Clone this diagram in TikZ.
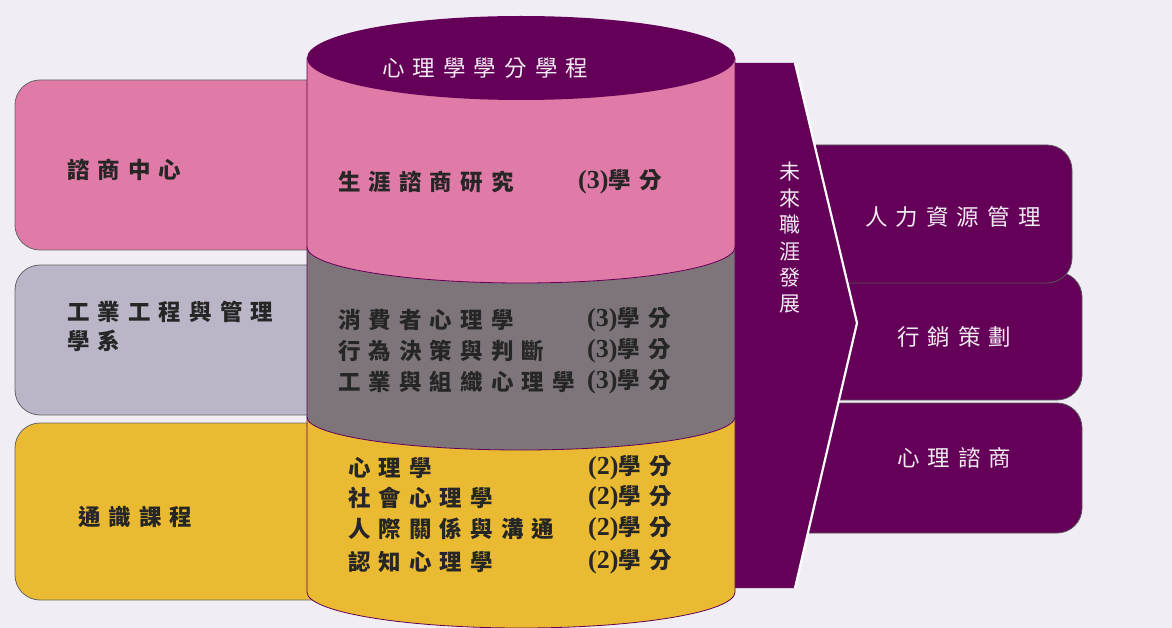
\documentclass[tikz,border=0pt]{standalone}
\usepackage{fontspec}
\newfontfamily\cjk[LetterSpace=36]{Noto Sans CJK TC}
\newfontfamily\latn{Liberation Serif}
\definecolor{purp}{RGB}{100,0,88}
\definecolor{pinkc}{RGB}{224,122,166}
\definecolor{grayband}{RGB}{126,117,122}
\definecolor{lgray}{RGB}{186,182,200}
\definecolor{yell}{RGB}{233,186,50}
\definecolor{bgc}{RGB}{240,238,244}
\newcommand\credit[1]{{\latn\fontsize{26}{26}\selectfont(#1)}學分}
\tikzset{
  txt/.style={anchor=west, inner sep=0pt, font=\cjk\bfseries\fontsize{22.5}{26}\selectfont, text=black!85},
  wtxt/.style={anchor=west, inner sep=0pt, font=\cjk\fontsize{22.5}{26}\selectfont, text=white!92!purp},
  leftbox/.style={draw=gray!80!black, line width=0.8pt, rounded corners=25pt},
  rightbox/.style={draw=gray!70!black, line width=0.8pt, fill=purp},
  cylpart/.style={draw=purp, line width=0.8pt},
}
\begin{document}
\begin{tikzpicture}[x=1pt,y=-1pt]
\useasboundingbox (0,0) rectangle (1172,628);
\fill[bgc] (0,0) rectangle (1172,628);

% right boxes
\draw[rightbox] (790,403) -- (1057,403) arc[start angle=270, end angle=360, x radius=25, y radius=25] -- (1082,508) arc[start angle=0, end angle=90, x radius=25, y radius=25] -- (790,533) -- cycle;
\draw[rightbox] (790,272) -- (1057,272) arc[start angle=270, end angle=360, x radius=25, y radius=25] -- (1082,375) arc[start angle=0, end angle=90, x radius=25, y radius=25] -- (790,400) -- cycle;
\draw[rightbox] (790,145) -- (1047,145) arc[start angle=270, end angle=360, x radius=25, y radius=25] -- (1072,258) arc[start angle=0, end angle=90, x radius=25, y radius=25] -- (790,283) -- cycle;

\node[wtxt] (hr) at (865,217) {人力資源管理};
\node[wtxt] (mk) at (897,337) {行銷策劃};
\node[wtxt] (pc) at (897,458) {心理諮商};

% arrow band
\fill[purp] (730,63) -- (795,63) -- (857,323) -- (795,588) -- (730,588) -- cycle;
\draw[white, line width=2.2pt, line join=miter] (795,63) -- (857,323) -- (795,588);
\node[text=white!92!purp, inner sep=0pt, align=center, font=\cjk\fontsize{21}{26.4}\selectfont] (fut) at (790,238) {未\\來\\職\\涯\\發\\展};

% left boxes
\draw[leftbox, fill=pinkc] (15,80) rectangle (420,250);
\draw[leftbox, fill=lgray] (15,265) rectangle (420,415);
\draw[leftbox, fill=yell] (15,423) rectangle (420,600);

\node[txt] (zs) at (67,170) {諮商中心};
\node[txt] (ie1) at (67,312) {工業工程與管理};
\node[txt] (ie2) at (67,341) {學系};
\node[txt] (ge) at (78,517) {通識課程};

% cylinder
\draw[cylpart, fill=yell] (307,417) -- (307,592) arc[start angle=180, end angle=0, x radius=214, y radius=36] -- (735,417) -- cycle;
\draw[cylpart, fill=grayband] (307,247) -- (307,417) arc[start angle=180, end angle=0, x radius=214, y radius=33] -- (735,247) -- cycle;
\draw[cylpart, fill=pinkc] (307,58) -- (307,247) arc[start angle=180, end angle=0, x radius=214, y radius=36] -- (735,58) -- cycle;
\fill[purp] (521,58) ellipse[x radius=214, y radius=42];

\node[wtxt] (title) at (382,68) {心理學學分學程};

\node[txt] (c1) at (338,182) {生涯諮商研究};
\node[txt] (c1r) at (578,182) {\credit{3}};

\node[txt] (g1) at (338,320) {消費者心理學};
\node[txt] (g2) at (338,351) {行為決策與判斷};
\node[txt] (g3) at (338,382) {工業與組織心理學};
\node[txt] (g1r) at (587,320) {\credit{3}};
\node[txt] (g2r) at (587,351) {\credit{3}};
\node[txt] (g3r) at (587,382) {\credit{3}};

\node[txt] (y1) at (348,468) {心理學};
\node[txt] (y2) at (348,498) {社會心理學};
\node[txt] (y3) at (348,529) {人際關係與溝通};
\node[txt] (y4) at (348,562) {認知心理學};
\node[txt] (y1r) at (588,468) {\credit{2}};
\node[txt] (y2r) at (588,498) {\credit{2}};
\node[txt] (y3r) at (588,529) {\credit{2}};
\node[txt] (y4r) at (588,562) {\credit{2}};
\end{tikzpicture}
\end{document}
